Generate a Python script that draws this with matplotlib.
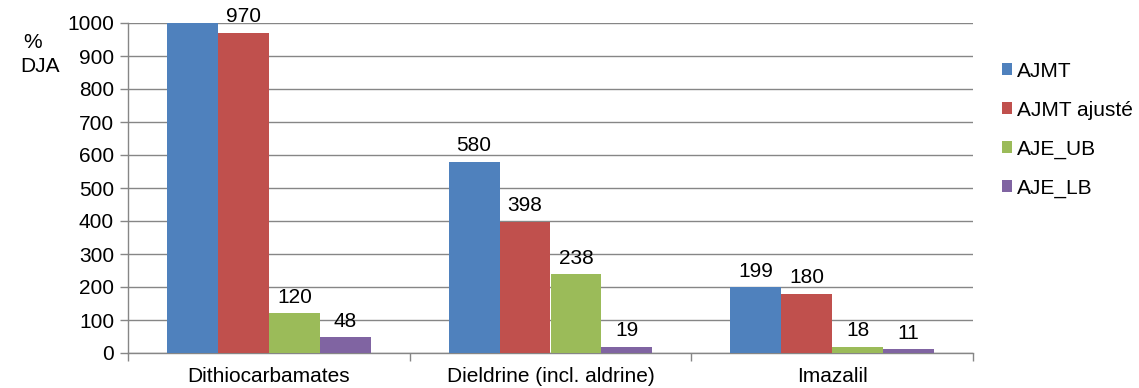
import numpy as np
import matplotlib
matplotlib.use("Agg")
import matplotlib.pyplot as plt
from matplotlib.patches import Patch

plt.rcParams['font.family'] = ['Liberation Sans', 'DejaVu Sans']

categories = ["Dithiocarbamates", "Dieldrine (incl. aldrine)", "Imazalil"]
series_names = ["AJMT", "AJMT ajusté", "AJE_UB", "AJE_LB"]
ajmt = [1000, 580, 199]
ajmt_ajuste = [970, 398, 180]
aje_ub = [120, 238, 18]
aje_lb = [48, 19, 11]
# the first AJMT bar runs past the top of the axis, so it carries no label
show_label = [[False, True, True], [True, True, True],
              [True, True, True], [True, True, True]]

colors = ["#4F81BD", "#C0504D", "#9BBB59", "#8064A2"]
series = [ajmt, ajmt_ajuste, aje_ub, aje_lb]
fs = 15

fig = plt.figure(figsize=(11.39, 3.88), dpi=100)
ax = fig.add_axes([128 / 1139, 35 / 388, 845 / 1139, 330 / 388])

x = np.arange(len(categories))
w = 0.181
offsets = (np.arange(4) - 1.5) * w
grid_c = "#868686"

for i, (vals, c) in enumerate(zip(series, colors)):
    bars = ax.bar(x + offsets[i], vals, width=w, color=c, zorder=3,
                  clip_on=True)
    for j, (b, v) in enumerate(zip(bars, vals)):
        if show_label[i][j]:
            ax.text(b.get_x() + b.get_width() / 2, v + 20, str(v),
                    ha="center", va="bottom", fontsize=fs, zorder=4)

ax.set_ylim(0, 1000)
ax.set_xlim(-0.5, len(categories) - 0.5)
ax.set_yticks(np.arange(0, 1001, 100))
ax.yaxis.grid(True, color=grid_c, linewidth=1.0, zorder=0)
ax.set_axisbelow(True)

ax.set_xticks(np.arange(-0.5, len(categories), 1.0))
ax.set_xticklabels([])
ax.set_xticks(x, minor=True)
ax.set_xticklabels(categories, minor=True, fontsize=fs)
ax.tick_params(axis="x", which="minor", length=0, pad=10)
ax.tick_params(axis="x", which="major", length=6, color=grid_c, width=1)
ax.tick_params(axis="y", length=6, color=grid_c, width=1, labelsize=fs, pad=4)

for s in ["top", "right"]:
    ax.spines[s].set_visible(False)
for s in ["left", "bottom"]:
    ax.spines[s].set_color(grid_c)
    ax.spines[s].set_linewidth(1)

fig.text(33 / 1139, 1 - 42 / 388, "%", ha="center", va="center", fontsize=fs)
fig.text(40 / 1139, 1 - 67 / 388, "DJA", ha="center", va="center", fontsize=fs)

handles = [Patch(facecolor=c, edgecolor="none") for c in colors]
leg = fig.legend(handles, series_names, loc="upper left",
                 bbox_to_anchor=(983 / 1139, 1 - 43 / 388), frameon=False,
                 fontsize=fs, handlelength=0.5, handleheight=0.5,
                 handletextpad=0.25, labelspacing=0.95)

fig.savefig("out.png", dpi=100)
